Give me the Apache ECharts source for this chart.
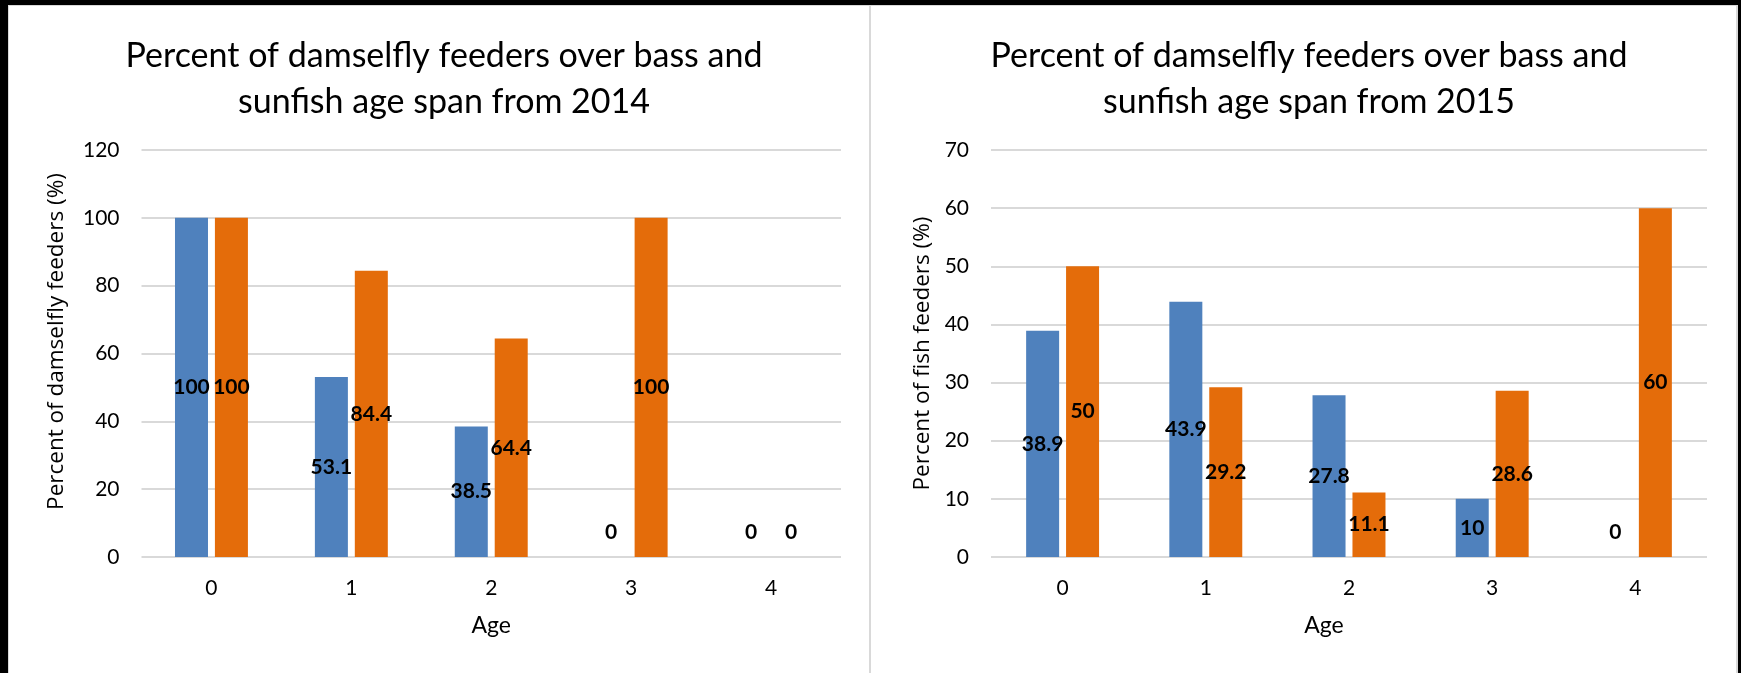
<!DOCTYPE html>
<html>
<head>
<meta charset="utf-8">
<script src="https://cdn.jsdelivr.net/npm/echarts@6/dist/echarts.min.js"></script>
<style>
  html, body { margin: 0; padding: 0; width: 1741px; height: 673px; background: #000; overflow: hidden; }
  .panel { position: absolute; top: 5px; height: 668px; background: #fff; box-sizing: border-box;
           border-top: 1px solid #d9d9d9; }
  #panelLeft { left: 8px; width: 862px; border-left: 1px solid #d9d9d9; border-right: 1px solid #d9d9d9; }
  #panelRight { left: 870px; width: 868px; border-left: 1px solid #d9d9d9; border-right: 2px solid #d9d9d9; }
  #chart { position: absolute; left: 0; top: 0; width: 1741px; height: 673px; }
</style>
</head>
<body>
<div class="panel" id="panelLeft"></div>
<div class="panel" id="panelRight"></div>
<div id="chart"></div>
<script>
// Ages shared by both years
const ages = ['0', '1', '2', '3', '4'];

// 2014 percentages of damselfly feeders
const bass2014 = [100, 53.1, 38.5, 0, 0];
const sunfish2014 = [100, 84.4, 64.4, 100, 0];

// 2015 percentages
const bass2015 = [38.9, 43.9, 27.8, 10, 0];
const sunfish2015 = [50, 29.2, 11.1, 28.6, 60];

const title2014 = 'Percent of damselfly feeders over bass and\nsunfish age span from 2014';
const title2015 = 'Percent of damselfly feeders over bass and\nsunfish age span from 2015';
const yName2014 = 'Percent of damselfly feeders (%)';
const yName2015 = 'Percent of fish feeders (%)';

const FONT = 'Lato';
const NAME_FONT = 'Open Sans';
const BLUE = '#4f81bd';
const ORANGE = '#e46c0a';
const GRID_LINE = '#d9d9d9';

// zero-height bars carry their label just above the baseline
function withLabels(values) {
  return values.map(v => v === 0
    ? { value: v, label: { position: 'top', distance: 14 } }
    : v);
}

function barSeries(name, values, color, axisIndex) {
  return {
    name: name,
    type: 'bar',
    xAxisIndex: axisIndex,
    yAxisIndex: axisIndex,
    data: withLabels(values),
    barWidth: 33,
    barGap: '21%',
    itemStyle: { color: color },
    label: {
      show: true,
      position: 'inside',
      color: '#000',
      fontFamily: FONT,
      fontWeight: 'bold',
      fontSize: 21
    }
  };
}

function xAxis(gridIndex, namePad) {
  return {
    type: 'category',
    gridIndex: gridIndex,
    data: ages,
    name: 'Age',
    nameLocation: 'middle',
    nameGap: 57,
    nameTextStyle: { color: '#000', fontFamily: FONT, fontSize: 23, padding: namePad },
    axisLine: { show: false },
    axisTick: { show: false },
    axisLabel: { color: '#000', fontFamily: FONT, fontSize: 21, margin: 21 }
  };
}

function yAxis(gridIndex, max, interval, name, gap, namePad) {
  return {
    type: 'value',
    gridIndex: gridIndex,
    min: 0,
    max: max,
    interval: interval,
    name: name,
    nameLocation: 'middle',
    nameGap: gap,
    nameTextStyle: { color: '#000', fontFamily: NAME_FONT, fontSize: 22.5, padding: namePad },
    axisLine: { show: false },
    axisTick: { show: false },
    axisLabel: { color: '#000', fontFamily: FONT, fontSize: 21, margin: 22 },
    splitLine: { lineStyle: { color: GRID_LINE, width: 2 } }
  };
}

const chart = echarts.init(document.getElementById('chart'));
chart.setOption({
  animation: false,
  textStyle: { fontFamily: FONT },
  title: [
    {
      text: title2014, left: 439, top: 28, textAlign: 'center',
      textStyle: { color: '#000', fontFamily: FONT, fontWeight: 'normal', fontSize: 34, lineHeight: 46 }
    },
    {
      text: title2015, left: 1304, top: 28, textAlign: 'center',
      textStyle: { color: '#000', fontFamily: FONT, fontWeight: 'normal', fontSize: 34, lineHeight: 46 }
    }
  ],
  grid: [
    { left: 141.5, top: 150, width: 699.5, height: 407 },
    { left: 991, top: 150, width: 716, height: 407 }
  ],
  xAxis: [xAxis(0, [0, 0, 0, 0]), xAxis(1, [0, 50, 0, 0])],
  yAxis: [
    yAxis(0, 120, 20, yName2014, 73, [0, 0, 0, 24]),
    yAxis(1, 70, 10, yName2015, 57, [0, 0, 0, 0])
  ],
  series: [
    barSeries('Bass', bass2014, BLUE, 0),
    barSeries('Sunfish', sunfish2014, ORANGE, 0),
    barSeries('Bass', bass2015, BLUE, 1),
    barSeries('Sunfish', sunfish2015, ORANGE, 1)
  ]
});
</script>
</body>
</html>
